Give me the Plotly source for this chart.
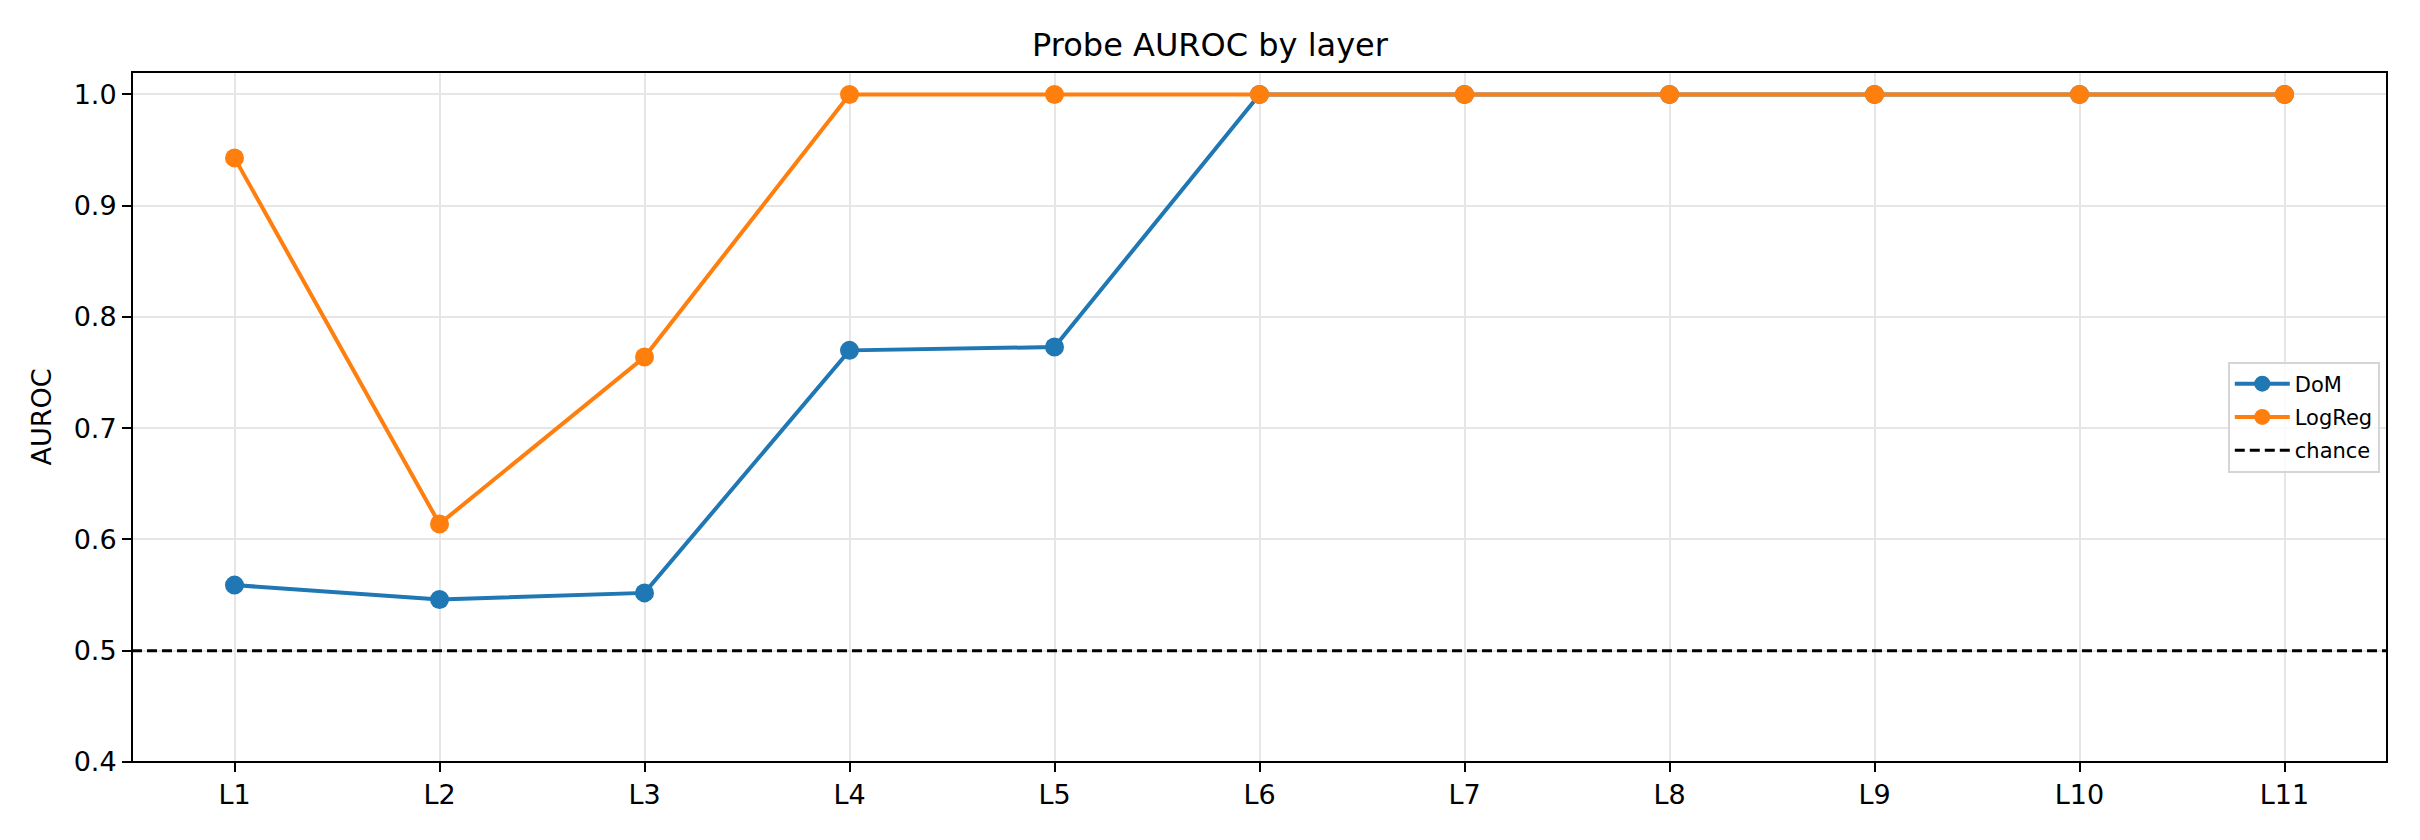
import plotly.graph_objects as go

layers = ["L1", "L2", "L3", "L4", "L5", "L6", "L7", "L8", "L9", "L10", "L11"]
dom = [0.559, 0.546, 0.552, 0.770, 0.773, 1.0, 1.0, 1.0, 1.0, 1.0, 1.0]
logreg = [0.943, 0.614, 0.764, 1.0, 1.0, 1.0, 1.0, 1.0, 1.0, 1.0, 1.0]
chance = 0.5
yticks = [0.4, 0.5, 0.6, 0.7, 0.8, 0.9, 1.0]

xs = list(range(len(layers)))
FONT = "DejaVu Sans"

fig = go.Figure()
fig.add_trace(go.Scatter(
    x=xs, y=dom, name="DoM", mode="lines+markers", legendgroup="a",
    line=dict(color="#1f77b4", width=4),
    marker=dict(color="#1f77b4", size=19),
))
fig.add_trace(go.Scatter(
    x=xs, y=logreg, name="LogReg", mode="lines+markers", legendgroup="b",
    line=dict(color="#ff7f0e", width=4),
    marker=dict(color="#ff7f0e", size=19),
))
fig.add_trace(go.Scatter(
    x=[-0.5, len(layers) - 0.5], y=[chance, chance], name="chance", mode="lines",
    legendgroup="c",
    line=dict(color="black", width=3, dash="10px,5px"),
))

fig.update_layout(
    width=2420, height=840, autosize=False,
    margin=dict(l=132, r=33, t=72, b=78, autoexpand=False),
    paper_bgcolor="white", plot_bgcolor="white",
    font=dict(family=FONT, size=27, color="black"),
    title=dict(text="Probe AUROC by layer", x=0.5, xanchor="center",
               y=1 - 45 / 840, yanchor="middle",
               font=dict(family=FONT, size=32, color="black")),
    showlegend=True,
    legend=dict(x=0.9968, xanchor="right", y=0.5, yanchor="middle",
                bgcolor="rgba(255,255,255,0.8)", bordercolor="#d5d5d5", borderwidth=2,
                font=dict(family=FONT, size=21, color="black"),
                tracegroupgap=3, itemwidth=55),
    shapes=[dict(type="rect", xref="x domain", yref="y domain", x0=0, x1=1, y0=0, y1=1,
                 line=dict(color="black", width=2), fillcolor="rgba(0,0,0,0)", layer="above")],
)
fig.update_xaxes(
    range=[-0.5, len(layers) - 0.5],
    tickmode="array", tickvals=xs, ticktext=layers,
    showgrid=True, gridcolor="#e6e6e6", gridwidth=2,
    showline=False,
    ticks="outside", ticklen=9, tickwidth=2, tickcolor="black",
    tickfont=dict(family=FONT, size=27), zeroline=False, automargin=False,
)
fig.update_yaxes(
    range=[0.4, 1.0202],
    tickmode="array", tickvals=yticks, ticktext=[f"{v:.1f}" for v in yticks],
    showgrid=True, gridcolor="#e6e6e6", gridwidth=2,
    showline=False,
    ticks="outside", ticklen=9, tickwidth=2, tickcolor="black",
    tickfont=dict(family=FONT, size=27), zeroline=False, automargin=False,
    title=dict(text="AUROC", font=dict(family=FONT, size=27), standoff=14),
)

fig.write_html("out.html", config={"displayModeBar": False, "responsive": False},
               post_script="document.body.style.margin='0';")
